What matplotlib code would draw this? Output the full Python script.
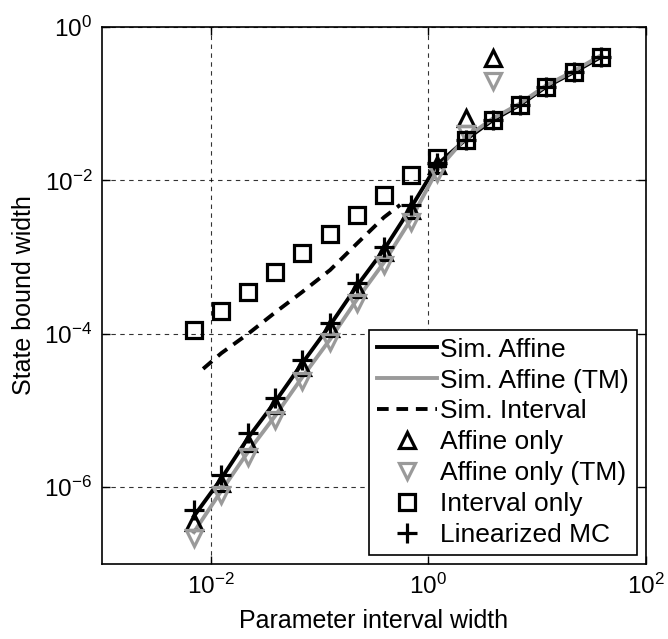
import numpy as np
import matplotlib
matplotlib.use('Agg')
import matplotlib.pyplot as plt
from matplotlib.ticker import LogLocator, NullLocator

plt.rcParams['font.family'] = ['Liberation Sans', 'DejaVu Sans']
plt.rcParams['mathtext.default'] = 'regular'

# parameter interval widths used for the bound runs
p_width = [0.007, 0.0125, 0.022, 0.039, 0.069, 0.125, 0.22, 0.39, 0.69, 1.2,
           2.2, 3.9, 6.9, 12, 22, 39]

sim_affine = [4.2e-7, 1.3e-6, 4.4e-6, 1.3e-5, 4.1e-5, 1.3e-4, 4.2e-4, 1.25e-3,
              4.4e-3, 0.016, 0.034, 0.061, 0.096, 0.165, 0.26, 0.41]
sim_affine_tm = [2.6e-7, 9e-7, 2.9e-6, 8.5e-6, 2.7e-5, 8.5e-5, 2.8e-4, 8.5e-4,
                 3.1e-3, 0.0135, 0.036, 0.064, 0.1, 0.172, 0.27, 0.43]

p_width_interval = [0.0085, 0.0125, 0.022, 0.039, 0.069, 0.125, 0.22, 0.39, 0.55]
sim_interval = [3.5e-5, 5.6e-5, 1.0e-4, 1.9e-4, 3.5e-4, 6.8e-4, 1.5e-3, 3.3e-3, 4.8e-3]

# affine-only results fail past p = 3.9
p_width_affine = p_width[:12]
affine_only = [3.5e-7, 1.13e-6, 3.8e-6, 1.18e-5, 3.7e-5, 1.2e-4, 3.9e-4, 1.17e-3,
               4.1e-3, 0.016, 0.065, 0.39]
affine_only_tm = [2.2e-7, 8e-7, 2.5e-6, 7.5e-6, 2.4e-5, 7.8e-5, 2.5e-4, 7.8e-4,
                  2.9e-3, 0.0125, 0.04, 0.2]

interval_only = [1.12e-4, 2e-4, 3.5e-4, 6.4e-4, 1.12e-3, 2e-3, 3.5e-3, 6.5e-3,
                 0.0118, 0.0195, 0.034, 0.061, 0.096, 0.165, 0.26, 0.41]
linearized_mc = [5e-7, 1.44e-6, 5.1e-6, 1.45e-5, 4.6e-5, 1.4e-4, 4.6e-4, 1.35e-3,
                 4.8e-3, 0.017, 0.034, 0.061, 0.096, 0.165, 0.26, 0.41]

gray = '#9a9a9a'

fig = plt.figure(figsize=(6.68, 6.39), dpi=100)
ax = fig.add_axes([0.1527, 0.1174, 0.8143, 0.8403])

ax.plot(p_width, sim_affine, '-', color='k', lw=2.8, label='Sim. Affine')
ax.plot(p_width, sim_affine_tm, '-', color=gray, lw=2.8, label='Sim. Affine (TM)')
ax.plot(p_width_interval, sim_interval, '--', color='k', lw=2.8, dashes=(3.0, 2.0),
        label='Sim. Interval')
ax.plot(p_width_affine, affine_only, '^', ms=12, mfc='none', mec='k', mew=2.3,
        ls='none', label='Affine only')
ax.plot(p_width_affine, affine_only_tm, 'v', ms=12, mfc='none', mec=gray, mew=2.3,
        ls='none', label='Affine only (TM)')
ax.plot(p_width, interval_only, 's', ms=12, mfc='none', mec='k', mew=2.3,
        ls='none', label='Interval only')
ax.plot(p_width, linearized_mc, '+', ms=15, mec='k', mew=2.3,
        ls='none', label='Linearized MC')

ax.set_xscale('log')
ax.set_yscale('log')
ax.set_xlim(1e-3, 1e2)
ax.set_ylim(1e-7, 1e0)

ax.xaxis.set_major_locator(LogLocator(base=100))
ax.set_yticks([1e-6, 1e-4, 1e-2, 1e0])
ax.xaxis.set_minor_locator(NullLocator())
ax.yaxis.set_minor_locator(NullLocator())

ax.grid(True, which='major', ls=(0, (4, 4)), color='k', lw=0.8, alpha=0.8)
ax.tick_params(direction='in', top=True, right=True, length=6, width=1,
               labelsize=17.5, pad=7)
for s in ax.spines.values():
    s.set_linewidth(1.2)

ax.set_xlabel('Parameter interval width', fontsize=18, labelpad=7)
ax.set_ylabel('State bound width', fontsize=18, labelpad=6)

leg = ax.legend(loc='lower right', fontsize=19, frameon=True, fancybox=False,
                edgecolor='k', framealpha=1, borderaxespad=0.35,
                handlelength=2.3, handletextpad=0.1, labelspacing=0.26,
                borderpad=0.3)
leg.get_frame().set_linewidth(1.2)

fig.savefig('out.png', dpi=100)
